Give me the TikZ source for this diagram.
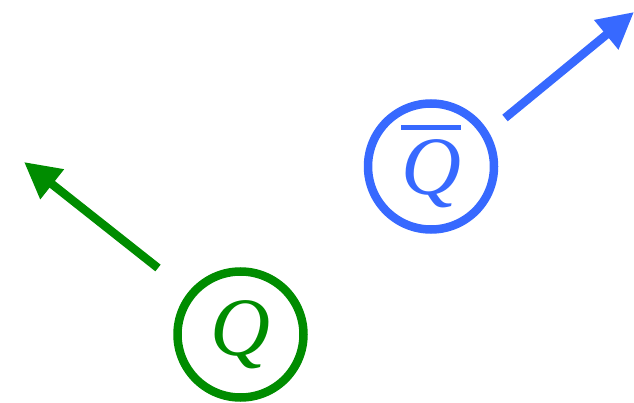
\documentclass[tikz,border=0pt]{standalone}
\usepackage{fontspec}
\setmainfont{Liberation Serif}
\usetikzlibrary{arrows.meta}
\definecolor{qgreen}{RGB}{0,140,0}
\definecolor{qblue}{RGB}{55,105,255}
\newcommand{\qbarbox}[1]{\vbox{\hrule height 5pt\kern 9pt\hbox{#1}}}
\begin{document}
\begin{tikzpicture}[x=1pt,y=-1pt,
  particle/.style={circle,draw,line width=8.5pt,minimum size=126pt,inner sep=0pt,font=\fontsize{83}{83}\selectfont\itshape},
  mom/.style={line width=8.5pt,-{Triangle[length=36pt,width=36pt]}}]
\useasboundingbox (0,0) rectangle (634,403);
\node[particle,qgreen,text=qgreen] (q) at (240.5,334.5) {Q};
\node[particle,qblue,text=qblue] (qb) at (431,166.5) {\qbarbox{Q}};
\coordinate (gt) at (158,268);
\coordinate (gh) at (24,162);
\coordinate (bt) at (505,118);
\coordinate (bh) at (634,12);
\draw[mom,qgreen] (gt) -- (gh);
\draw[mom,qblue] (bt) -- (bh);
\end{tikzpicture}
\end{document}
